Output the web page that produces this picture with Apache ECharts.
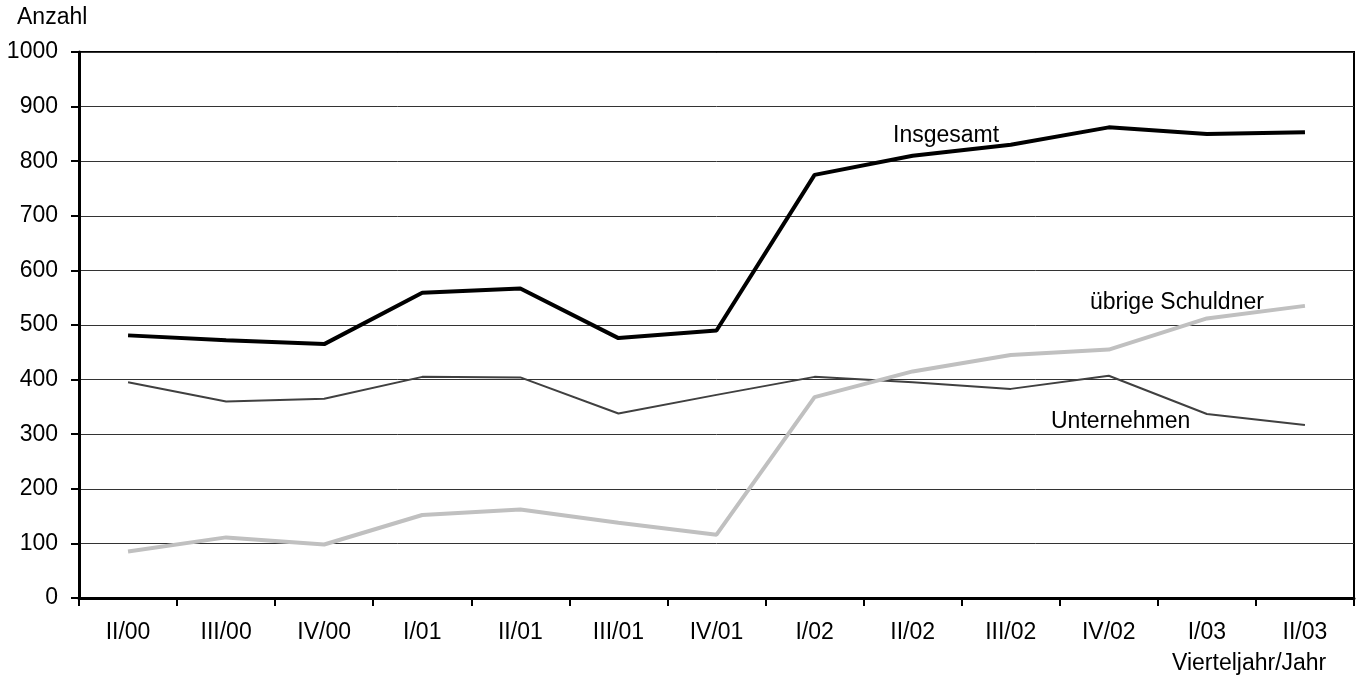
<!DOCTYPE html>
<html>
<head>
<meta charset="utf-8">
<script src="https://cdn.jsdelivr.net/npm/echarts@6/dist/echarts.min.js"></script>
<style>html,body{margin:0;padding:0;background:#fff}#c{width:1361px;height:683px}</style>
</head>
<body>
<div id="c"></div>
<script>
const categories = ['II/00','III/00','IV/00','I/01','II/01','III/01','IV/01','I/02','II/02','III/02','IV/02','I/03','II/03'];
const insgesamt = [481, 472, 465, 559, 567, 476, 490, 775, 810, 830, 862, 850, 853];
const unternehmen = [395, 360, 365, 405, 404, 338, 372, 405, 395, 383, 407, 337, 317];
const uebrige = [85, 111, 98, 152, 162, 138, 116, 368, 415, 445, 455, 512, 535];
const yTicks = [0, 100, 200, 300, 400, 500, 600, 700, 800, 900, 1000];

const font = 'Liberation Sans, Arial, sans-serif';
const fs = 23;
const chart = echarts.init(document.getElementById('c'), null, {renderer: 'canvas'});
chart.setOption({
  animation: false,
  grid: {left: 79, right: 7, top: 52, bottom: 85, show: true, borderColor: '#000', borderWidth: 2, backgroundColor: 'transparent'},
  xAxis: {
    type: 'category', data: categories, boundaryGap: true,
    axisLine: {lineStyle: {color: '#000', width: 3}},
    axisTick: {show: true, length: 8, lineStyle: {color: '#000', width: 2}},
    axisLabel: {color: '#000', fontSize: fs, fontFamily: font, margin: 23}
  },
  yAxis: {
    type: 'value', min: yTicks[0], max: yTicks[yTicks.length - 1], interval: 100,
    axisLine: {show: true, lineStyle: {color: '#000', width: 3}},
    axisTick: {show: true, length: 8, lineStyle: {color: '#000', width: 2}},
    axisLabel: {color: '#000', fontSize: fs, fontFamily: font, margin: 21, formatter: v => String(v)},
    splitLine: {lineStyle: {color: '#333', width: 1}}
  },
  series: [
    {name: 'Unternehmen', type: 'line', data: unternehmen, symbol: 'none', lineStyle: {color: '#404040', width: 2}, z: 3},
    {name: 'übrige Schuldner', type: 'line', data: uebrige, symbol: 'none', lineStyle: {color: '#c0c0c0', width: 4}, z: 4},
    {name: 'Insgesamt', type: 'line', data: insgesamt, symbol: 'none', lineStyle: {color: '#000', width: 4}, z: 5}
  ],
  graphic: [
    {type: 'text', left: 17, top: 6, style: {text: 'Anzahl', fontSize: fs, fontFamily: font, fill: '#000'}},
    {type: 'text', left: 1172, top: 652, style: {text: 'Vierteljahr/Jahr', fontSize: fs, fontFamily: font, fill: '#000'}},
    {type: 'text', left: 893, top: 124, style: {text: 'Insgesamt', fontSize: fs, fontFamily: font, fill: '#000'}, z: 10},
    {type: 'text', left: 1090, top: 291, style: {text: 'übrige Schuldner', fontSize: fs, fontFamily: font, fill: '#000'}, z: 10},
    {type: 'text', left: 1051, top: 410, style: {text: 'Unternehmen', fontSize: fs, fontFamily: font, fill: '#000'}, z: 10}
  ]
});
</script>
</body>
</html>
